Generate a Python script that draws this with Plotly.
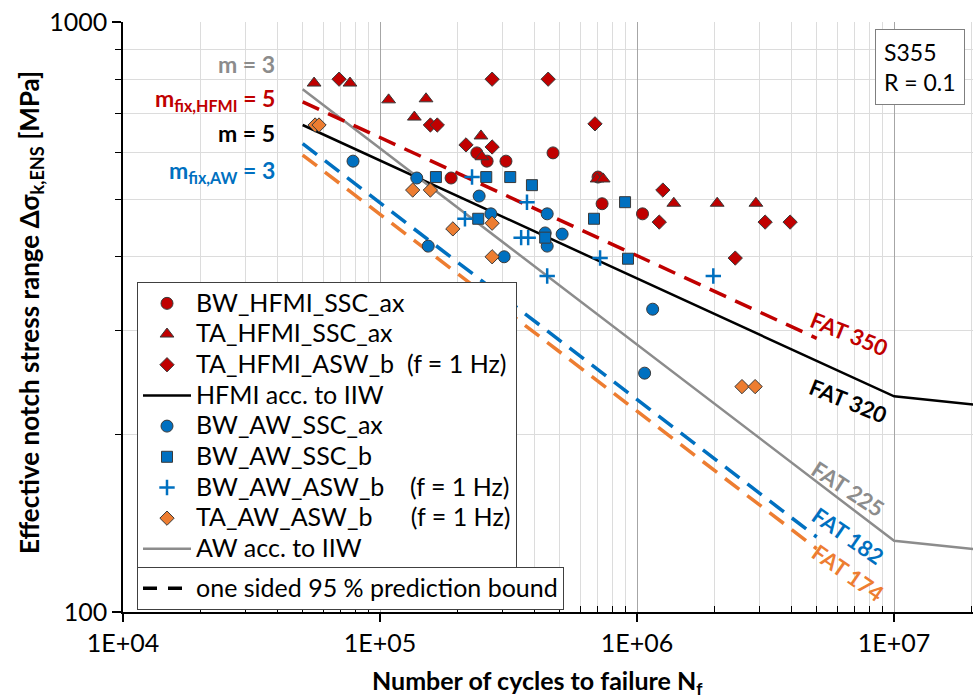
import plotly.graph_objects as go

# ---- test results: cycles to failure N and effective notch stress range S [MPa] ----
bw_hfmi_ssc_ax_N = [1.89e5, 2.38e5, 2.61e5, 3.09e5, 4.71e5, 7.05e5, 7.31e5, 1.05e6]
bw_hfmi_ssc_ax_S = [544, 600, 581, 581, 600, 546, 492, 473]

ta_hfmi_ssc_ax_N = [5.54e4, 7.64e4, 1.08e5, 1.51e5, 1.36e5, 2.47e5, 2.49e5,
                    6.99e5, 7.38e5, 1.39e6, 2.05e6, 2.90e6]
ta_hfmi_ssc_ax_S = [788, 788, 738, 741, 690, 641, 591, 542, 542, 493, 493, 493]

ta_hfmi_asw_b_N = [6.93e4, 1.57e5, 1.67e5, 2.16e5, 2.73e5, 2.73e5, 4.51e5,
                   6.86e5, 1.26e6, 1.22e6, 3.15e6, 3.94e6, 2.41e6]
ta_hfmi_asw_b_S = [800, 669, 669, 619, 614, 800, 800, 672, 519, 458, 458, 458, 398]

bw_aw_ssc_ax_N = [7.85e4, 1.39e5, 1.54e5, 2.43e5, 2.70e5, 3.04e5, 4.47e5,
                  4.39e5, 4.47e5, 5.11e5, 1.15e6, 1.07e6]
bw_aw_ssc_ax_S = [581, 544, 417, 507, 473, 400, 473, 439, 417, 437, 326, 254]

bw_aw_ssc_b_N = [1.65e5, 2.59e5, 3.21e5, 3.90e5, 2.41e5, 4.39e5, 6.80e5, 8.98e5, 9.22e5]
bw_aw_ssc_b_S = [546, 546, 546, 529, 464, 431, 464, 495, 397]

bw_aw_asw_b_N = [2.28e5, 3.73e5, 2.14e5, 3.54e5, 3.77e5, 7.18e5, 4.47e5, 1.98e6]
bw_aw_asw_b_S = [546, 495, 464, 431, 431, 398, 371, 371]

ta_aw_asw_b_N = [5.59e4, 5.79e4, 1.34e5, 1.57e5, 1.92e5, 2.73e5, 2.73e5, 2.56e6, 2.88e6]
ta_aw_asw_b_S = [669, 669, 519, 519, 446, 456, 400, 241, 241]

# ---- IIW design curves (start, knee at 1E7, tail) ----
hfmi_iiw_N = [5e4, 1e7, 1e8]
hfmi_iiw_S = [669, 232, 209]
aw_iiw_N = [5e4, 1e7, 1e8]
aw_iiw_S = [769, 132, 119]

# ---- one sided 95 % prediction bounds ----
pb_hfmi_N = [5e4, 5e6]
pb_hfmi_S = [732, 291]
pb_aw_bw_N = [5e4, 5e6]
pb_aw_bw_S = [622, 134]
pb_aw_ta_N = [5e4, 5e6]
pb_aw_ta_S = [595, 128]

x_tick_vals = [1e4, 1e5, 1e6, 1e7]
x_tick_text = ["1E+04", "1E+05", "1E+06", "1E+07"]
y_tick_vals = [100, 1000]
y_tick_text = ["100", "1000"]

RED = "#C00000"
BLUE = "#0070C0"
ORANGE = "#ED7D31"
GRAY = "#8C8C8C"
FONT = "Lato"
EDGE = dict(color="#3a3a3a", width=1)
DASH = "18px,10px"

# legend rows keep a compact pitch while the entry text is drawn larger
LEG_ROW_FONT = 21.3
LEG_TEXT_PX = 25
NB = "\u00a0"


def leg(text):
    return f'<span style="font-size:{LEG_TEXT_PX}px">{text}</span>'


fig = go.Figure()

# design curves and prediction bounds underneath the markers
fig.add_trace(go.Scatter(x=hfmi_iiw_N, y=hfmi_iiw_S, mode="lines",
                         line=dict(color="black", width=2.5),
                         name=leg("HFMI acc. to IIW"), legendrank=4))
fig.add_trace(go.Scatter(x=aw_iiw_N, y=aw_iiw_S, mode="lines",
                         line=dict(color=GRAY, width=2.5),
                         name=leg("AW acc. to IIW"), legendrank=9))
fig.add_trace(go.Scatter(x=pb_hfmi_N, y=pb_hfmi_S, mode="lines",
                         line=dict(color=RED, width=3.5, dash=DASH), showlegend=False))
fig.add_trace(go.Scatter(x=pb_aw_bw_N, y=pb_aw_bw_S, mode="lines",
                         line=dict(color=BLUE, width=3.5, dash=DASH), showlegend=False))
fig.add_trace(go.Scatter(x=pb_aw_ta_N, y=pb_aw_ta_S, mode="lines",
                         line=dict(color=ORANGE, width=3.5, dash=DASH), showlegend=False))
fig.add_trace(go.Scatter(x=[None], y=[None], mode="lines",
                         line=dict(color="black", width=3.5, dash="14px,11px"),
                         name=leg("one sided 95 % prediction bound"), legend="legend2"))

fig.add_trace(go.Scatter(x=bw_hfmi_ssc_ax_N, y=bw_hfmi_ssc_ax_S, mode="markers",
                         marker=dict(symbol="circle", size=12, color=RED, line=EDGE),
                         name=leg("BW_HFMI_SSC_ax"), legendrank=1))
fig.add_trace(go.Scatter(x=ta_hfmi_ssc_ax_N, y=ta_hfmi_ssc_ax_S, mode="markers",
                         marker=dict(symbol="triangle-up", size=12, color=RED, line=EDGE),
                         name=leg("TA_HFMI_SSC_ax"), legendrank=2))
fig.add_trace(go.Scatter(x=ta_hfmi_asw_b_N, y=ta_hfmi_asw_b_S, mode="markers",
                         marker=dict(symbol="diamond", size=11, color=RED, line=EDGE),
                         name=leg("TA_HFMI_ASW_b" + NB * 2 + "(f = 1 Hz)"), legendrank=3))
fig.add_trace(go.Scatter(x=bw_aw_ssc_ax_N, y=bw_aw_ssc_ax_S, mode="markers",
                         marker=dict(symbol="circle", size=12, color=BLUE, line=EDGE),
                         name=leg("BW_AW_SSC_ax"), legendrank=5))
fig.add_trace(go.Scatter(x=bw_aw_ssc_b_N, y=bw_aw_ssc_b_S, mode="markers",
                         marker=dict(symbol="square", size=11, color=BLUE, line=EDGE),
                         name=leg("BW_AW_SSC_b"), legendrank=6))
fig.add_trace(go.Scatter(x=bw_aw_asw_b_N, y=bw_aw_asw_b_S, mode="markers",
                         marker=dict(symbol="cross-thin", size=11,
                                     line=dict(color=BLUE, width=2.5)),
                         name=leg("BW_AW_ASW_b" + NB * 4 + "(f = 1 Hz)"), legendrank=7))
fig.add_trace(go.Scatter(x=ta_aw_asw_b_N, y=ta_aw_asw_b_S, mode="markers",
                         marker=dict(symbol="diamond", size=11, color=ORANGE, line=EDGE),
                         name=leg("TA_AW_ASW_b" + NB * 6 + "(f = 1 Hz)"), legendrank=8))

L, R, T, B = 123, 0, 22, 87
W, H = 973, 699
PW, PH = W - L - R, H - T - B


def px(x):
    return (x - L) / PW


def py(y):
    return (H - B - y) / PH


annotations = []


def label(text, x, y, color, size=22, angle=0, xanchor="center", bold=True):
    annotations.append(dict(
        text=f"<b>{text}</b>" if bold else text, xref="paper", yref="paper",
        x=px(x), y=py(y), xanchor=xanchor, yanchor="middle", showarrow=False,
        textangle=angle, font=dict(family=FONT, size=size, color=color)))


# slope labels at the left
label("m = 3", 277, 64, GRAY, 23, xanchor="right")
label("m<sub>fix,HFMI</sub> = 5", 277, 99, RED, 23, xanchor="right")
label("m = 5", 277, 133, "black", 23, xanchor="right")
label("m<sub>fix,AW</sub> = 3", 277, 171, BLUE, 23, xanchor="right")

# FAT classes at the curve ends
label("FAT 350", 849, 333, RED, 22, angle=22)
label("FAT 320", 848, 400, "black", 22, angle=22)
label("FAT 225", 848, 488, GRAY, 22, angle=33)
label("FAT 182", 848, 535, BLUE, 22, angle=35)
label("FAT 174", 848, 572, ORANGE, 22, angle=35)

# axis titles
label("Effective notch stress range Δσ<sub>k,ENS</sub> [MPa]", 30, 313, "black", 26, angle=-90)
label("Number of cycles to failure N<sub>f</sub>", 537, 682, "black", 25)

# material / load ratio box
annotations.append(dict(
    text="S355<br>R = 0.1", xref="paper", yref="paper", x=px(919.5), y=py(67.5),
    xanchor="center", yanchor="middle", showarrow=False, align="left",
    font=dict(family=FONT, size=23, color="black"),
    bordercolor="#7f7f7f", borderwidth=1, borderpad=8, bgcolor="white"))

x_minor = [m * 10 ** e for e in range(4, 8) for m in range(2, 10)]
y_minor = [m * 100 for m in range(2, 10)]

legend_style = dict(bgcolor="white", bordercolor="#404040", borderwidth=1,
                    font=dict(family=FONT, size=LEG_ROW_FONT, color="black"),
                    itemwidth=48, xanchor="left", yanchor="top")

fig.update_layout(
    width=W, height=H, margin=dict(l=L, r=R, t=T, b=B),
    paper_bgcolor="white", plot_bgcolor="white",
    font=dict(family=FONT, size=22, color="black"),
    annotations=annotations,
    xaxis=dict(type="log", range=[4, 7.307], tickvals=x_tick_vals, ticktext=x_tick_text,
               ticks="outside", ticklen=8, tickwidth=1.5, tickcolor="black",
               showline=True, linecolor="black", linewidth=1.5,
               showgrid=True, gridcolor="#a6a6a6", gridwidth=1.3, zeroline=False,
               tickfont=dict(family=FONT, size=25, color="black"),
               minor=dict(tickvals=x_minor, ticks="inside", ticklen=6, tickwidth=1.2,
                          tickcolor="black", showgrid=True, gridcolor="#dcdcdc",
                          gridwidth=1)),
    yaxis=dict(type="log", range=[2, 3], tickvals=y_tick_vals, ticktext=y_tick_text,
               ticks="outside", ticklen=9, tickwidth=1.5, tickcolor="black",
               showline=True, linecolor="black", linewidth=1.5,
               showgrid=True, gridcolor="#dcdcdc", gridwidth=1, zeroline=False,
               tickfont=dict(family=FONT, size=25, color="black"),
               minor=dict(tickvals=y_minor, ticks="outside", ticklen=6, tickwidth=1.2,
                          tickcolor="black", showgrid=True, gridcolor="#dcdcdc",
                          gridwidth=1)),
    legend=dict(x=px(137), y=py(282), traceorder="normal", **legend_style),
    legend2=dict(x=px(137), y=py(567), **legend_style),
)

fig.write_html("out.html")
